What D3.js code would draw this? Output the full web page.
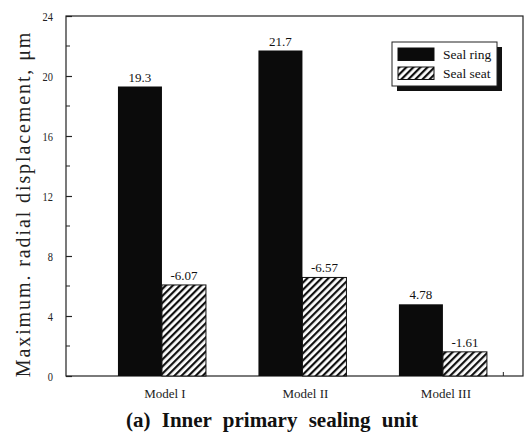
<!DOCTYPE html>
<html>
<head>
<meta charset="utf-8">
<script src="https://cdn.jsdelivr.net/npm/d3@7"></script>
<style>
  body { margin: 0; background: #fff; }
</style>
</head>
<body>
<div id="chart"></div>
<script>
const models = ["Model I", "Model II", "Model III"]
const sealRing = [19.3, 21.7, 4.78]
const sealSeat = [-6.07, -6.57, -1.61]
const seriesNames = ["Seal ring", "Seal seat"]
const yTicks = [0, 4, 8, 12, 16, 20, 24]
const yMinorTicks = [2, 6, 10, 14, 18, 22]

const FONT = '"Liberation Serif"'
const width = 526
const height = 439
const margin = {top: 16, right: 3, bottom: 63, left: 66}
const innerW = width - margin.left - margin.right
const innerH = height - margin.top - margin.bottom

const svg = d3.select('#chart')
  .append('svg')
  .attr('width', width)
  .attr('height', height)

const defs = svg.append('defs')
const hatch = defs.append('pattern')
  .attr('id', 'hatch')
  .attr('patternUnits', 'userSpaceOnUse')
  .attr('width', 5)
  .attr('height', 5)
  .attr('patternTransform', 'rotate(45)')
hatch.append('rect').attr('width', 5).attr('height', 5).attr('fill', '#fff')
hatch.append('rect').attr('x', 0).attr('width', 2.2).attr('height', 5).attr('fill', '#111')

const g = svg.append('g')
  .attr('transform', `translate(${margin.left},${margin.top})`)

// group index scale (group centres at 1,2,3)
const x = d3.scaleLinear()
  .domain([0.317, 3.57])
  .range([0, innerW])
const y = d3.scaleLinear()
  .domain([0, 24])
  .range([innerH, 0])

const barW = 44

// frame
g.append('rect')
  .attr('width', innerW)
  .attr('height', innerH)
  .attr('fill', 'none')
  .attr('stroke', '#222')
  .attr('stroke-width', 1.2)

// y axis
const yAxis = d3.axisLeft(y)
  .tickValues(yTicks)
  .tickSize(-6)
const yAxisG = g.append('g').call(yAxis)
  .attr('font-family', FONT)
yAxisG.select('.domain').remove()
yAxisG.selectAll('.tick line').attr('stroke', '#222').attr('stroke-width', 1.2)
yAxisG.selectAll('.tick text')
  .attr('font-family', FONT)
  .attr('font-size', 13)
  .attr('fill', '#222')
  .attr('transform', 'scale(0.8,1)')
  .attr('x', -13 / 0.8)

g.append('g').selectAll('line')
  .data(yMinorTicks)
  .join('line')
  .attr('x1', 0).attr('x2', 4)
  .attr('y1', d => y(d)).attr('y2', d => y(d))
  .attr('stroke', '#222')

// small tick on the x axis near the right end
g.append('line')
  .attr('x1', x(3.43)).attr('x2', x(3.43))
  .attr('y1', innerH).attr('y2', innerH - 4)
  .attr('stroke', '#222')

const data = models.map((m, i) => ({model: m, i: i + 1, ring: sealRing[i], seat: sealSeat[i]}))

// seal ring bars
g.selectAll('.ring')
  .data(data)
  .join('rect')
  .attr('class', 'ring')
  .attr('x', d => x(d.i) - barW)
  .attr('width', barW)
  .attr('y', d => y(d.ring))
  .attr('height', d => innerH - y(d.ring))
  .attr('fill', '#0b0b0b')

// seal seat bars (drawn by magnitude)
g.selectAll('.seat')
  .data(data)
  .join('rect')
  .attr('class', 'seat')
  .attr('x', d => x(d.i))
  .attr('width', barW)
  .attr('y', d => y(Math.abs(d.seat)))
  .attr('height', d => innerH - y(Math.abs(d.seat)))
  .attr('fill', 'url(#hatch)')
  .attr('stroke', '#111')
  .attr('stroke-width', 1)

// value labels
g.selectAll('.ringLabel')
  .data(data)
  .join('text')
  .attr('font-family', FONT)
  .attr('text-anchor', 'middle')
  .attr('font-size', 13)
  .attr('fill', '#111')
  .attr('x', d => x(d.i) - barW / 2)
  .attr('y', d => y(d.ring) - 5)
  .text(d => d.ring)

g.selectAll('.seatLabel')
  .data(data)
  .join('text')
  .attr('font-family', FONT)
  .attr('text-anchor', 'middle')
  .attr('font-size', 13)
  .attr('fill', '#111')
  .attr('x', d => x(d.i) + barW / 2)
  .attr('y', d => y(Math.abs(d.seat)) - 5)
  .text(d => d.seat.toFixed(2))

// x labels
g.selectAll('.xLabel')
  .data(data)
  .join('text')
  .attr('font-family', FONT)
  .attr('text-anchor', 'middle')
  .attr('font-size', 13)
  .attr('fill', '#222')
  .attr('x', d => x(d.i) + 3)
  .attr('y', innerH + 22)
  .text(d => d.model)

// y title
svg.append('text')
  .attr('transform', `translate(30,204) rotate(-90)`)
  .attr('font-family', FONT)
  .attr('text-anchor', 'middle')
  .attr('font-size', 20)
  .attr('fill', '#222')
  .attr('letter-spacing', 1.9)
  .text('Maximum. radial displacement,  \u03bcm')

// caption
svg.append('text')
  .attr('x', 272)
  .attr('y', 427)
  .attr('font-family', FONT)
  .attr('text-anchor', 'middle')
  .attr('font-size', 21)
  .attr('font-weight', 'bold')
  .attr('fill', '#111')
  .attr('word-spacing', 6)
  .text('(a) Inner primary sealing unit')

// legend
const legend = svg.append('g').attr('transform', 'translate(392,42)')
legend.append('rect')
  .attr('x', 5).attr('y', 5)
  .attr('width', 105).attr('height', 44)
  .attr('fill', '#111')
legend.append('rect')
  .attr('width', 105).attr('height', 44)
  .attr('fill', '#fff')
  .attr('stroke', '#222')
  .attr('stroke-width', 1)
const items = legend.selectAll('.item')
  .data(seriesNames)
  .join('g')
  .attr('transform', (d, i) => `translate(6,${6 + i * 19})`)
items.append('rect')
  .attr('width', 36).attr('height', 12.5)
  .attr('fill', (d, i) => i === 0 ? '#0b0b0b' : 'url(#hatch)')
  .attr('stroke', '#111')
items.append('text')
  .attr('font-family', FONT)
  .attr('x', 45)
  .attr('y', 11)
  .attr('font-size', 13.5)
  .attr('fill', '#111')
  .text(d => d)
</script>
</body>
</html>
